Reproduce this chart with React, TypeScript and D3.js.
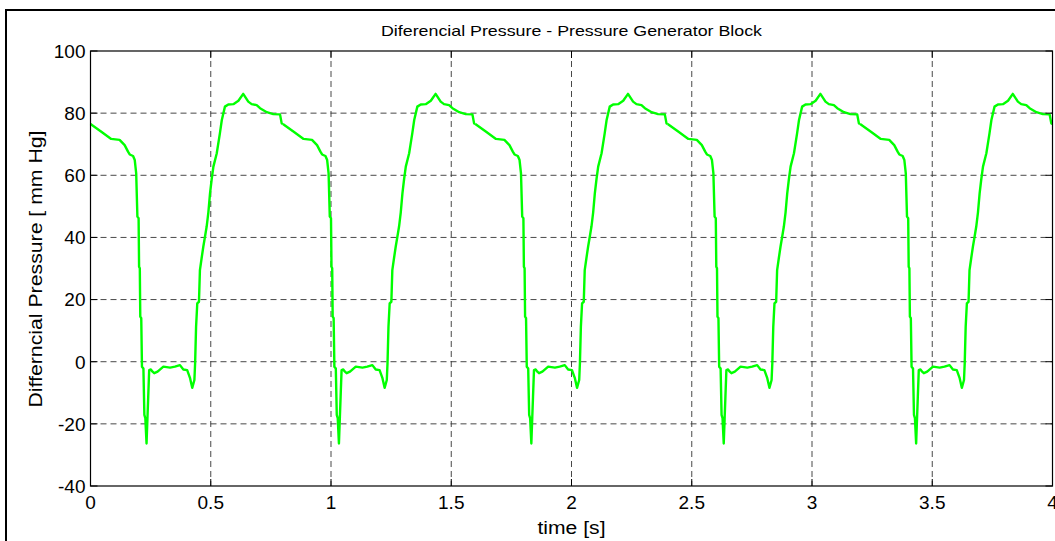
import * as d3 from 'd3';
import React, { useEffect, useRef } from 'react';

// x ticks (s) and y ticks (mm Hg)
const xTicks = [0, 0.5, 1, 1.5, 2, 2.5, 3, 3.5, 4];
const yTicks = [-40, -20, 0, 20, 40, 60, 80, 100];

// pressure trace, one heart beat per array: [time s, pressure mm Hg]
const beat1: [number, number][] = [
  [0.0, 76.5], [0.045, 74.0], [0.086, 71.7], [0.121, 71.4], [0.142, 69.7], [0.156, 67.6],
  [0.163, 66.7], [0.177, 66.2], [0.184, 64.9], [0.19, 60.6], [0.195, 46.7], [0.2, 46.2],
  [0.202, 30.6], [0.205, 30.1], [0.207, 14.5], [0.211, 14.0], [0.214, -1.6], [0.22, -2.2],
  [0.224, -17.1], [0.228, -18.2], [0.233, -26.3], [0.237, -17.7], [0.24, -11.3], [0.244, -2.7],
  [0.251, -2.5], [0.258, -3.2], [0.265, -3.7], [0.279, -3.2], [0.303, -1.6], [0.331, -1.9],
  [0.351, -1.6], [0.372, -1.1], [0.386, -2.5], [0.402, -2.7], [0.414, -5.3], [0.423, -8.4],
  [0.432, -5.9], [0.435, -0.5], [0.439, 11.3], [0.444, 18.8], [0.451, 19.3], [0.455, 29.5],
  [0.462, 33.3], [0.469, 37.0], [0.476, 40.2], [0.483, 43.5], [0.49, 48.0], [0.497, 54.2],
  [0.504, 58.8], [0.511, 62.8], [0.525, 67.1], [0.538, 73.5], [0.546, 77.8], [0.559, 82.1],
  [0.573, 82.8], [0.594, 82.9], [0.615, 84.0], [0.635, 86.2], [0.656, 83.7], [0.67, 82.9],
  [0.691, 82.6], [0.705, 81.6], [0.733, 80.3], [0.76, 79.7], [0.788, 79.6], [0.795, 76.7],
];

const beat2: [number, number][] = [
  [0.8, 76.5], [0.845, 74.0], [0.886, 71.7], [0.921, 71.4], [0.942, 69.7], [0.956, 67.6],
  [0.963, 66.7], [0.977, 66.2], [0.984, 64.9], [0.99, 60.6], [0.995, 46.7], [1.0, 46.2],
  [1.002, 30.6], [1.005, 30.1], [1.007, 14.5], [1.011, 14.0], [1.014, -1.6], [1.02, -2.2],
  [1.024, -17.1], [1.028, -18.2], [1.033, -26.3], [1.037, -17.7], [1.04, -11.3], [1.044, -2.7],
  [1.051, -2.5], [1.058, -3.2], [1.065, -3.7], [1.079, -3.2], [1.103, -1.6], [1.131, -1.9],
  [1.151, -1.6], [1.172, -1.1], [1.186, -2.5], [1.202, -2.7], [1.214, -5.3], [1.223, -8.4],
  [1.232, -5.9], [1.235, -0.5], [1.239, 11.3], [1.244, 18.8], [1.251, 19.3], [1.255, 29.5],
  [1.262, 33.3], [1.269, 37.0], [1.276, 40.2], [1.283, 43.5], [1.29, 48.0], [1.297, 54.2],
  [1.304, 58.8], [1.311, 62.8], [1.325, 67.1], [1.338, 73.5], [1.346, 77.8], [1.359, 82.1],
  [1.373, 82.8], [1.394, 82.9], [1.415, 84.0], [1.435, 86.2], [1.456, 83.7], [1.47, 82.9],
  [1.491, 82.6], [1.505, 81.6], [1.533, 80.3], [1.56, 79.7], [1.588, 79.6], [1.595, 76.7],
];

const beat3: [number, number][] = [
  [1.6, 76.5], [1.645, 74.0], [1.686, 71.7], [1.721, 71.4], [1.742, 69.7], [1.756, 67.6],
  [1.763, 66.7], [1.777, 66.2], [1.784, 64.9], [1.79, 60.6], [1.795, 46.7], [1.8, 46.2],
  [1.802, 30.6], [1.805, 30.1], [1.807, 14.5], [1.811, 14.0], [1.814, -1.6], [1.82, -2.2],
  [1.824, -17.1], [1.828, -18.2], [1.833, -26.3], [1.837, -17.7], [1.84, -11.3], [1.844, -2.7],
  [1.851, -2.5], [1.858, -3.2], [1.865, -3.7], [1.879, -3.2], [1.903, -1.6], [1.931, -1.9],
  [1.951, -1.6], [1.972, -1.1], [1.986, -2.5], [2.002, -2.7], [2.014, -5.3], [2.023, -8.4],
  [2.032, -5.9], [2.035, -0.5], [2.039, 11.3], [2.044, 18.8], [2.051, 19.3], [2.055, 29.5],
  [2.062, 33.3], [2.069, 37.0], [2.076, 40.2], [2.083, 43.5], [2.09, 48.0], [2.097, 54.2],
  [2.104, 58.8], [2.111, 62.8], [2.125, 67.1], [2.138, 73.5], [2.146, 77.8], [2.159, 82.1],
  [2.173, 82.8], [2.194, 82.9], [2.215, 84.0], [2.235, 86.2], [2.256, 83.7], [2.27, 82.9],
  [2.291, 82.6], [2.305, 81.6], [2.333, 80.3], [2.36, 79.7], [2.388, 79.6], [2.395, 76.7],
];

const beat4: [number, number][] = [
  [2.4, 76.5], [2.445, 74.0], [2.486, 71.7], [2.521, 71.4], [2.542, 69.7], [2.556, 67.6],
  [2.563, 66.7], [2.577, 66.2], [2.584, 64.9], [2.59, 60.6], [2.595, 46.7], [2.6, 46.2],
  [2.602, 30.6], [2.605, 30.1], [2.607, 14.5], [2.611, 14.0], [2.614, -1.6], [2.62, -2.2],
  [2.624, -17.1], [2.628, -18.2], [2.633, -26.3], [2.637, -17.7], [2.64, -11.3], [2.644, -2.7],
  [2.651, -2.5], [2.658, -3.2], [2.665, -3.7], [2.679, -3.2], [2.703, -1.6], [2.731, -1.9],
  [2.751, -1.6], [2.772, -1.1], [2.786, -2.5], [2.802, -2.7], [2.814, -5.3], [2.823, -8.4],
  [2.832, -5.9], [2.835, -0.5], [2.839, 11.3], [2.844, 18.8], [2.851, 19.3], [2.855, 29.5],
  [2.862, 33.3], [2.869, 37.0], [2.876, 40.2], [2.883, 43.5], [2.89, 48.0], [2.897, 54.2],
  [2.904, 58.8], [2.911, 62.8], [2.925, 67.1], [2.938, 73.5], [2.946, 77.8], [2.959, 82.1],
  [2.973, 82.8], [2.994, 82.9], [3.015, 84.0], [3.035, 86.2], [3.056, 83.7], [3.07, 82.9],
  [3.091, 82.6], [3.105, 81.6], [3.133, 80.3], [3.16, 79.7], [3.188, 79.6], [3.195, 76.7],
];

const beat5: [number, number][] = [
  [3.2, 76.5], [3.245, 74.0], [3.286, 71.7], [3.321, 71.4], [3.342, 69.7], [3.356, 67.6],
  [3.363, 66.7], [3.377, 66.2], [3.384, 64.9], [3.39, 60.6], [3.395, 46.7], [3.4, 46.2],
  [3.402, 30.6], [3.405, 30.1], [3.407, 14.5], [3.411, 14.0], [3.414, -1.6], [3.42, -2.2],
  [3.424, -17.1], [3.428, -18.2], [3.433, -26.3], [3.437, -17.7], [3.44, -11.3], [3.444, -2.7],
  [3.451, -2.5], [3.458, -3.2], [3.465, -3.7], [3.479, -3.2], [3.503, -1.6], [3.531, -1.9],
  [3.551, -1.6], [3.572, -1.1], [3.586, -2.5], [3.602, -2.7], [3.614, -5.3], [3.623, -8.4],
  [3.632, -5.9], [3.635, -0.5], [3.639, 11.3], [3.644, 18.8], [3.651, 19.3], [3.655, 29.5],
  [3.662, 33.3], [3.669, 37.0], [3.676, 40.2], [3.683, 43.5], [3.69, 48.0], [3.697, 54.2],
  [3.704, 58.8], [3.711, 62.8], [3.725, 67.1], [3.738, 73.5], [3.746, 77.8], [3.759, 82.1],
  [3.773, 82.8], [3.794, 82.9], [3.815, 84.0], [3.835, 86.2], [3.856, 83.7], [3.87, 82.9],
  [3.891, 82.6], [3.905, 81.6], [3.933, 80.3], [3.96, 79.7], [3.988, 79.6], [3.995, 76.7],
  [4.0, 76.5],
];

const FONT = "'Liberation Sans', Arial, sans-serif";

const PressureChart: React.FC = () => {
  const ref = useRef<SVGSVGElement | null>(null);

  useEffect(() => {
    if (!ref.current) return;
    const root = d3.select(ref.current);
    root.selectAll('*').remove();

    const W = 1055;
    const H = 541;
    const margin = { top: 51, right: 2.5, bottom: 55, left: 90.5 };
    const width = W - margin.left - margin.right;
    const height = H - margin.top - margin.bottom;

    // figure background + frame
    root.append('rect').attr('width', W).attr('height', H).attr('fill', '#fff');
    root
      .append('rect')
      .attr('x', 6)
      .attr('y', 10)
      .attr('width', W + 20)
      .attr('height', H + 20)
      .attr('fill', 'none')
      .attr('stroke', '#000')
      .attr('stroke-width', 2);

    const svg = root.append('g').attr('transform', `translate(${margin.left},${margin.top})`);

    const x = d3.scaleLinear().domain([0, 4]).range([0, width]);
    const y = d3.scaleLinear().domain([-40, 100]).range([height, 0]);

    // grid
    const grid = svg.append('g').attr('stroke', '#333').attr('stroke-width', 0.9).attr('stroke-dasharray', '6,4');
    xTicks.slice(1, -1).forEach((t) => {
      grid.append('line').attr('x1', x(t)).attr('x2', x(t)).attr('y1', 0).attr('y2', height);
    });
    yTicks.slice(1, -1).forEach((t) => {
      grid.append('line').attr('x1', 0).attr('x2', width).attr('y1', y(t)).attr('y2', y(t));
    });

    // trace
    const line = d3
      .line<[number, number]>()
      .x((d) => x(d[0]))
      .y((d) => y(d[1]));
    [beat1, beat2, beat3, beat4, beat5].forEach((beat, i, all) => {
      const pts = i < all.length - 1 ? [...beat, all[i + 1][0]] : beat;
      svg
        .append('path')
        .datum(pts)
        .attr('fill', 'none')
        .attr('stroke', '#00ff00')
        .attr('stroke-width', 2.4)
        .attr('stroke-linejoin', 'round')
        .attr('d', line);
    });

    // box
    svg
      .append('rect')
      .attr('width', width)
      .attr('height', height)
      .attr('fill', 'none')
      .attr('stroke', '#000')
      .attr('stroke-width', 1.2);

    // inward ticks
    const tl = 7;
    const ticks = svg.append('g').attr('stroke', '#000').attr('stroke-width', 1);
    xTicks.forEach((t) => {
      ticks.append('line').attr('x1', x(t)).attr('x2', x(t)).attr('y1', height).attr('y2', height - tl);
      ticks.append('line').attr('x1', x(t)).attr('x2', x(t)).attr('y1', 0).attr('y2', tl);
    });
    yTicks.forEach((t) => {
      ticks.append('line').attr('x1', 0).attr('x2', tl).attr('y1', y(t)).attr('y2', y(t));
      ticks.append('line').attr('x1', width).attr('x2', width - tl).attr('y1', y(t)).attr('y2', y(t));
    });

    // tick labels
    svg
      .selectAll('.xl')
      .data(xTicks)
      .enter()
      .append('text')
      .attr('x', (d) => x(d))
      .attr('y', height + 23)
      .attr('text-anchor', 'middle')
      .style('font-family', FONT)
      .style('font-size', '19px')
      .text((d) => String(d));

    svg
      .selectAll('.yl')
      .data(yTicks)
      .enter()
      .append('text')
      .attr('x', -5)
      .attr('y', (d) => y(d) + 6.8)
      .attr('text-anchor', 'end')
      .style('font-family', FONT)
      .style('font-size', '19px')
      .text((d) => String(d));

    // labels
    root
      .append('text')
      .attr('x', margin.left + width / 2)
      .attr('y', 36)
      .attr('text-anchor', 'middle')
      .attr('textLength', 381)
      .attr('lengthAdjust', 'spacingAndGlyphs')
      .style('font-family', FONT)
      .style('font-size', '15px')
      .text('Diferencial Pressure - Pressure Generator Block');

    root
      .append('text')
      .attr('x', margin.left + width / 2)
      .attr('y', 534)
      .attr('text-anchor', 'middle')
      .attr('textLength', 68)
      .attr('lengthAdjust', 'spacingAndGlyphs')
      .style('font-family', FONT)
      .style('font-size', '18px')
      .text('time [s]');

    root
      .append('text')
      .attr('transform', `translate(42, ${margin.top + height / 2 + 0.5}) rotate(-90)`)
      .attr('text-anchor', 'middle')
      .attr('textLength', 277)
      .attr('lengthAdjust', 'spacingAndGlyphs')
      .style('font-family', FONT)
      .style('font-size', '18px')
      .text('Differncial Pressure [ mm Hg]');
  }, []);

  return <svg ref={ref} width={1055} height={541} style={{ display: 'block' }} />;
};

export default function App() {
  return (
    <div style={{ position: 'absolute', left: 0, top: 0 }}>
      <PressureChart />
    </div>
  );
}
